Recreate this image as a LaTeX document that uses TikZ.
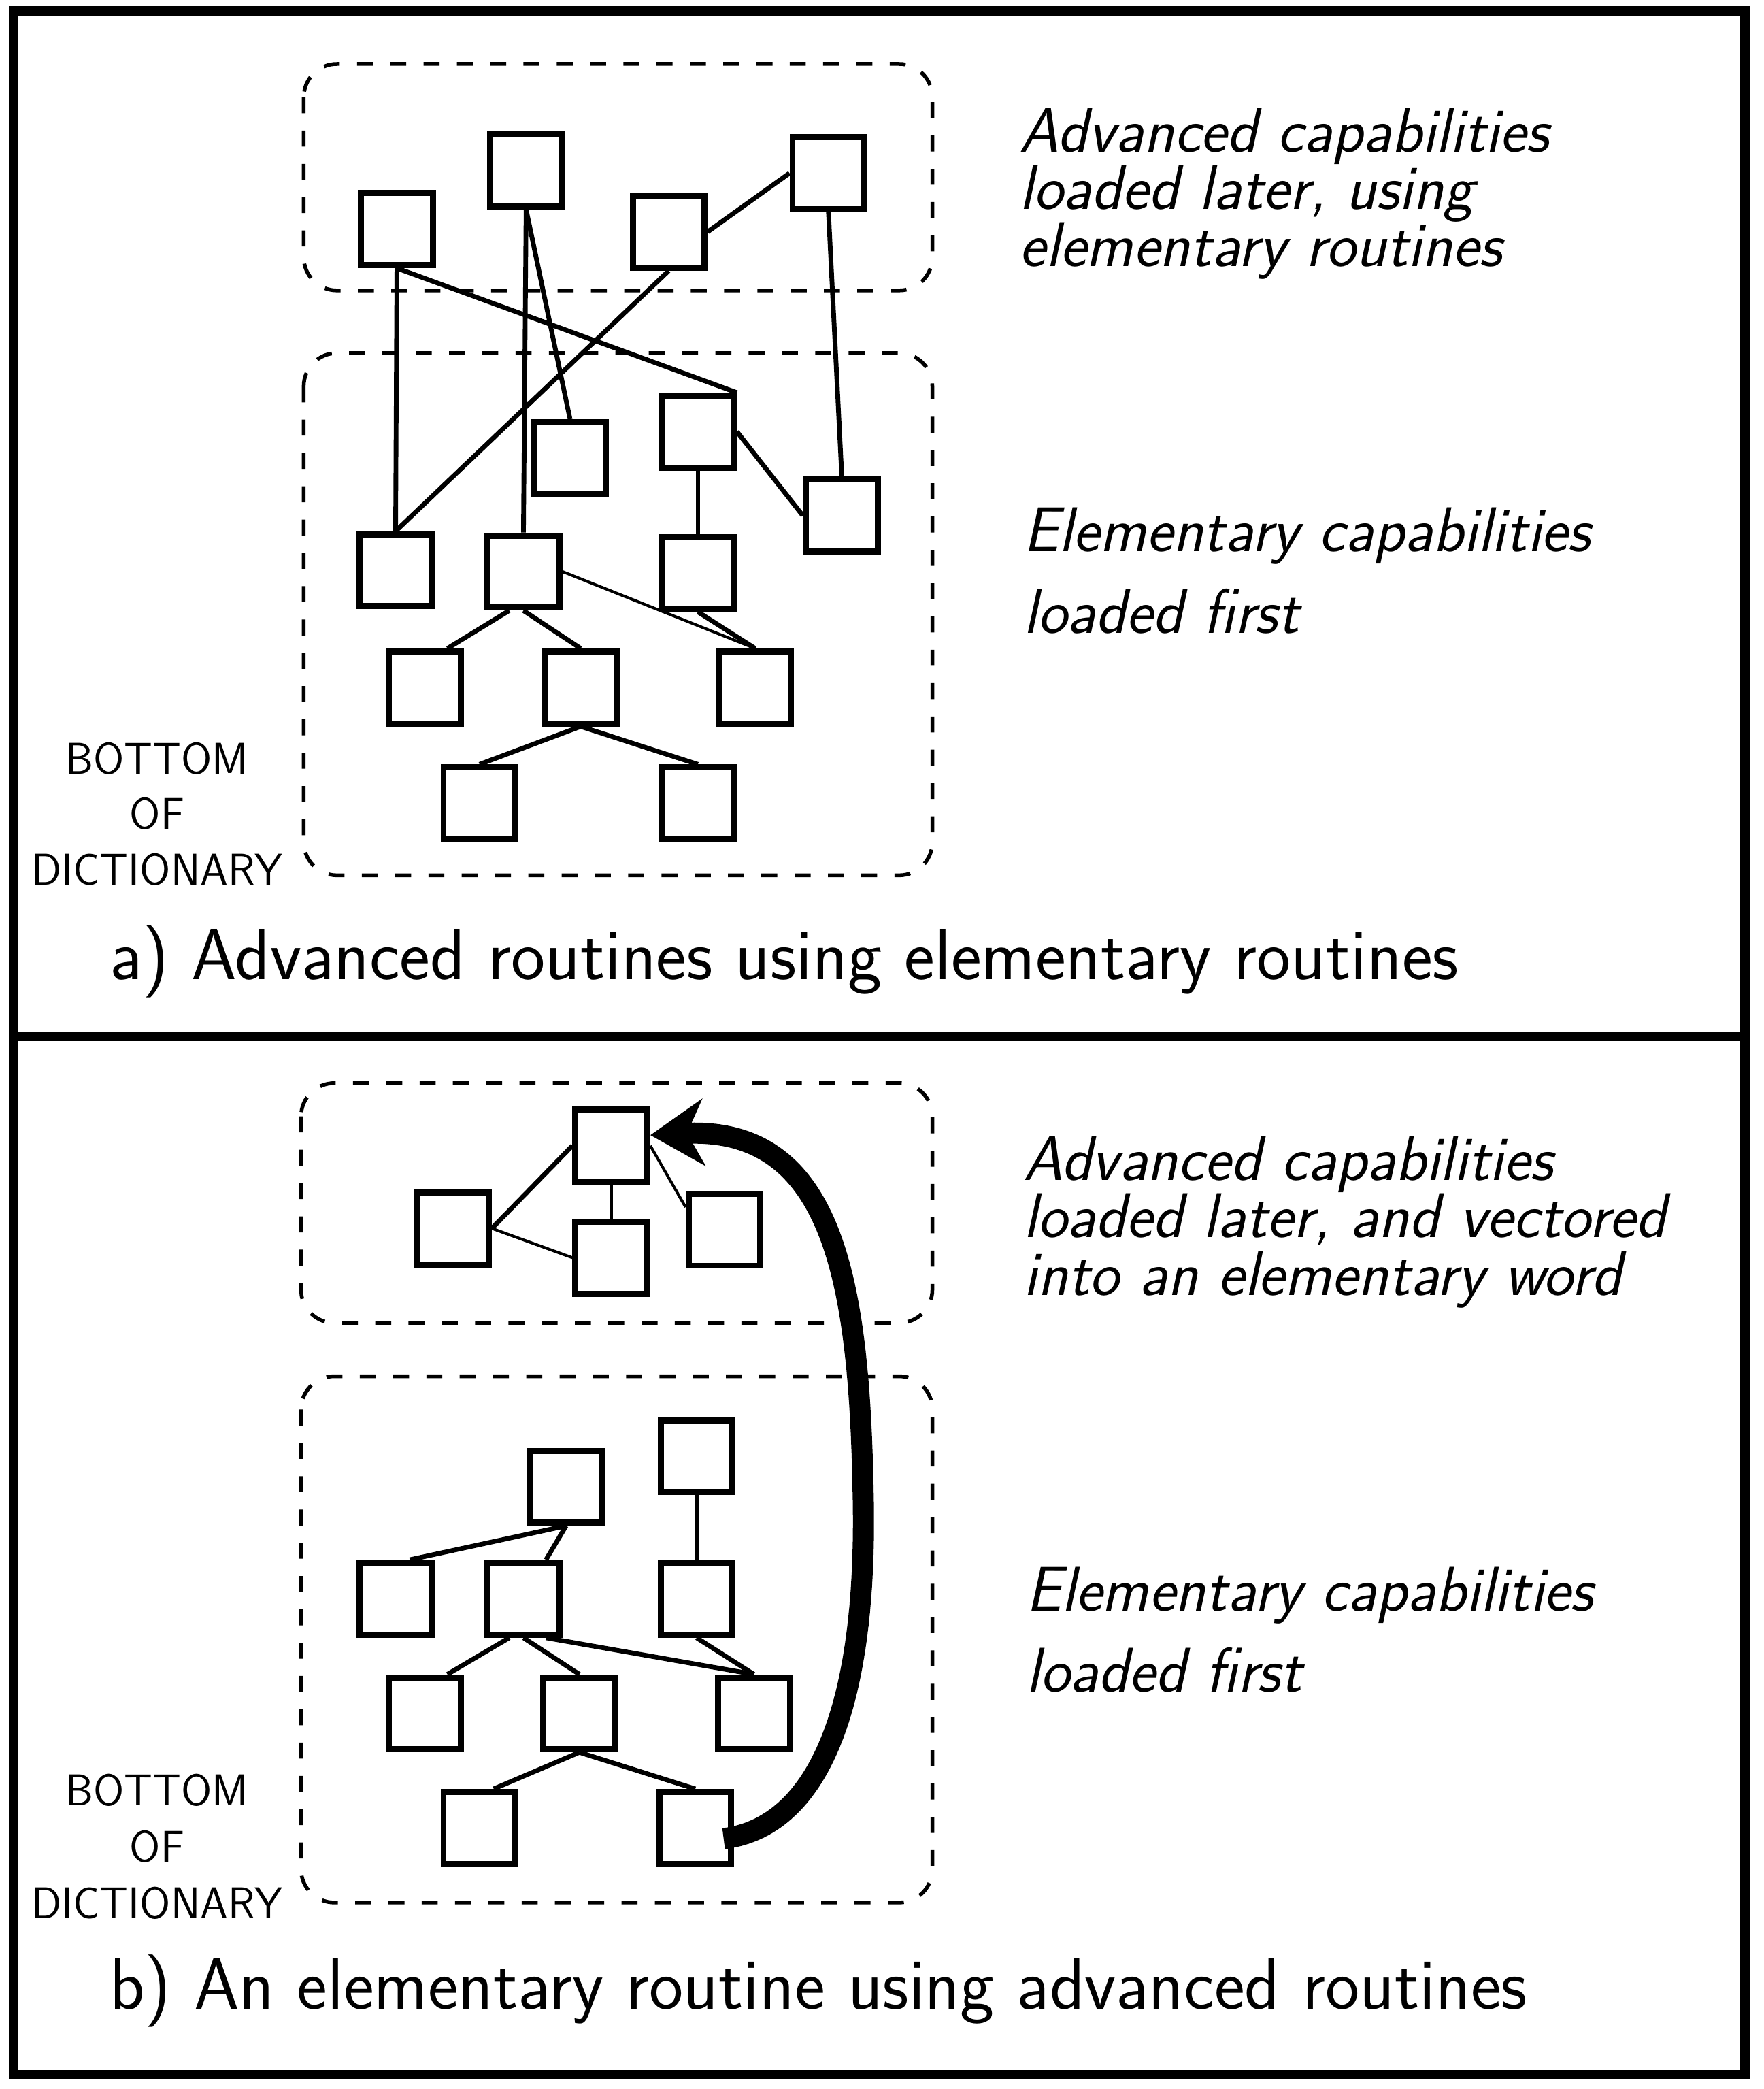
\documentclass[tikz,border=0pt]{standalone}
\usepackage{tikz}
\usetikzlibrary{arrows.meta}

\tikzset{
  wordbox/.style={draw, line width=2.6pt, minimum size=1.08cm, inner sep=0pt},
  link/.style={line width=2pt},
  thinlink/.style={line width=1.2pt},
  region/.style={line width=1.6pt, dash pattern=on 0.24cm off 0.26cm, rounded corners=0.5cm},
  bigarrow/.style={line width=9pt, -{Stealth[length=0.8cm, width=1cm, inset=0.25cm]}},
  note/.style={anchor=base west, inner sep=0pt, align=left, font=\fontsize{27}{24.5}\selectfont\sffamily\slshape},
  caption/.style={anchor=base west, inner sep=0pt, font=\fontsize{31}{36}\selectfont\sffamily},
  bottomtxt/.style={anchor=base, inner sep=0pt, align=center, font=\fontsize{19}{23}\selectfont\sffamily}
}

\begin{document}
\begin{tikzpicture}[x=0.02cm, y=-0.02cm]
\useasboundingbox (0,0) rectangle (1324,1568);

\draw[line width=4pt] (10,8) rectangle (1310,1557);
\draw[line width=4pt] (10,778) -- (1310,778);

% a) advanced words use elementary words
\draw[region] (228,48) rectangle (700,218);
\draw[region] (228,265) rectangle (700,657);

\node[wordbox] (a1) at (298,172) {};
\node[wordbox] (a2) at (395,128) {};
\node[wordbox] (a3) at (502,174) {};
\node[wordbox] (a4) at (622,130) {};

\node[wordbox] (e1) at (428,344) {};
\node[wordbox] (e2) at (524,324) {};
\node[wordbox] (e3) at (632,387) {};
\node[wordbox] (e4) at (297,428) {};
\node[wordbox] (e5) at (393,429) {};
\node[wordbox] (e6) at (524,430) {};
\node[wordbox] (e7) at (319,516) {};
\node[wordbox] (e8) at (436,516) {};
\node[wordbox] (e9) at (567,516) {};
\node[wordbox] (e10) at (360,603) {};
\node[wordbox] (e11) at (524,603) {};

\draw[link] (a1.south) -- (e4.north);
\draw[link] (a1.south) -- (e2.north east);
\draw[link] (a2.south) -- (e5.north);
\draw[link] (a2.south) -- (e1.north);
\draw[link] (a3.south) -- (e4.north);
\draw[link] (a3.east) -- (a4.west);
\draw[link] (a4.south) -- (e3.north);
\draw[link] (e2.east) -- (e3.west);
\draw[link] (e2.south) -- (e6.north);
\draw[thinlink] (e5.east) -- (e9.north);
\draw[link] (e6.south) -- (e9.north);
\draw[link] (e5.-110) -- (e7.60);
\draw[link] (e5.south) -- (e8.north);
\draw[link] (e8.south) -- (e10.north);
\draw[link] (e8.south) -- (e11.north);

\node[note] (adv-a) at (765,200) {Advanced capabilities\\loaded later, using\\elementary routines};
\node[note] (elem-a) at (768,475) {Elementary capabilities\\[0.36cm]loaded first};

\node[bottomtxt] (bot-a) at (118,664) {BOTTOM\\[0.02cm]OF\\[0.02cm]DICTIONARY};

\node[caption] (cap-a) at (82,735) {a) Advanced routines using elementary routines};

% b) an elementary word vectored into an advanced one
\draw[region] (226,813) rectangle (700,993);
\draw[region] (226,1033) rectangle (700,1428);

\node[wordbox] (b1) at (459,860) {};
\node[wordbox] (b2) at (340,922) {};
\node[wordbox] (b3) at (459,944) {};
\node[wordbox] (b4) at (544,923) {};

\node[wordbox] (c1) at (425,1116) {};
\node[wordbox] (c2) at (523,1093) {};
\node[wordbox] (c3) at (297,1200) {};
\node[wordbox] (c4) at (393,1200) {};
\node[wordbox] (c5) at (523,1200) {};
\node[wordbox] (c6) at (319,1286) {};
\node[wordbox] (c7) at (435,1286) {};
\node[wordbox] (c8) at (566,1286) {};
\node[wordbox] (c9) at (360,1372) {};
\node[wordbox] (c10) at (522,1372) {};

\draw[link] (b2.east) -- (b1.west);
\draw[thinlink] (b2.east) -- (b3.west);
\draw[thinlink] (b1.south) -- (b3.north);
\draw[thinlink] (b1.east) -- (b4.150);

\draw[link] (c1.south) -- (c3.70);
\draw[link] (c1.south) -- (c4.60);
\draw[link] (c2.south) -- (c5.north);
\draw[link] (c4.-110) -- (c6.60);
\draw[link] (c4.south) -- (c7.north);
\draw[link] (c4.-60) -- (c8.north);
\draw[link] (c5.south) -- (c8.north);
\draw[link] (c7.south) -- (c9.70);
\draw[link] (c7.south) -- (c10.north);

\draw[bigarrow] ([xshift=-0.16cm,yshift=-0.16cm]c10.east) .. controls (610,1372) and (652,1290) .. (648,1120)
  .. controls (645,960) and (625,845) .. ([yshift=0.16cm]b1.east);

\node[note] (adv-b) at (768,972) {Advanced capabilities\\loaded later, and vectored\\into an elementary word};
\node[note] (elem-b) at (770,1270) {Elementary capabilities\\[0.36cm]loaded first};

\node[bottomtxt] (bot-b) at (118,1440) {BOTTOM\\[0.04cm]OF\\[0.04cm]DICTIONARY};

\node[caption] (cap-b) at (82,1508) {b) An elementary routine using advanced routines};
\end{tikzpicture}
\end{document}
